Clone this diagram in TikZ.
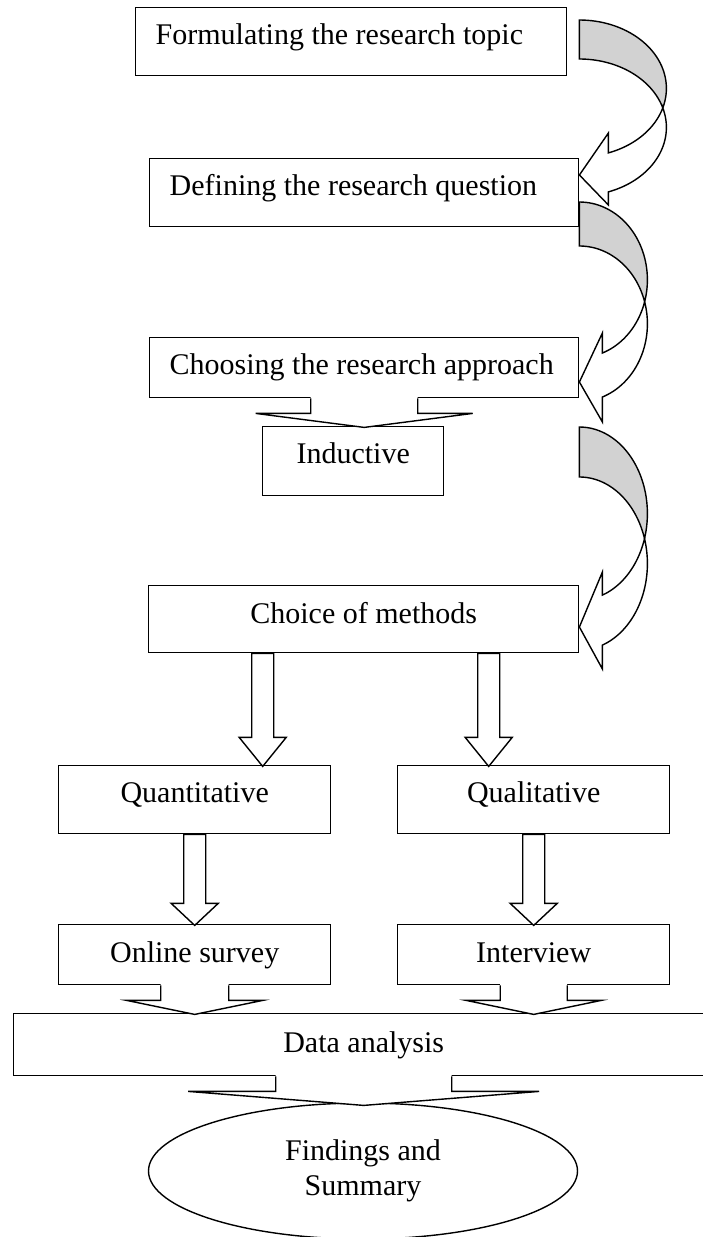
\documentclass[tikz,border=0pt]{standalone}
\usepackage{fontspec}
\setmainfont{Liberation Serif}
\usetikzlibrary{shapes.geometric}
\tikzset{
  ln/.style={line width=1.4pt, draw=black},
  bx/.style={ln, fill=white, anchor=north west, inner sep=0pt, font=\fontsize{30}{35}\selectfont},
}
\newcommand\NotchArrow[3]{%
  \begin{scope}[shift={(#1)}]
    \fill[white] (-#2,-1.5) -- (-#2,15) -- (-#3,15) -- (0,29) -- (#3,15) -- (#2,15) -- (#2,-1.5) -- cycle;
    \draw[ln] (-#2,0) -- (-#2,15) -- (-#3,15) -- (0,29) -- (#3,15) -- (#2,15) -- (#2,0);
  \end{scope}}
\newcommand\ThinArrow[4]{%
  \filldraw[ln, fill=white, shift={(#1)}] ({#2-11},0) -- ({#2-11},#3) -- ({#2-23.5},#3) -- (#2,#4) -- ({#2+23.5},#3) -- ({#2+11},#3) -- ({#2+11},0) -- cycle;}
\begin{document}
\begin{tikzpicture}[x=1pt,y=-1pt]
\useasboundingbox (0,0) rectangle (702,1237);

% boxes (left-aligned text)
\node[bx, inner xsep=20pt, text height=37pt, text depth=31pt] (b1) at (135,7) {\makebox[391pt][l]{Formulating the research topic}};
\node[bx, inner xsep=20pt, text height=37pt, text depth=31pt] (b2) at (149,158) {\makebox[389pt][l]{Defining the research question}};
\node[bx, inner xsep=20pt, text height=37pt, text depth=23pt] (b3) at (149,337) {\makebox[389pt][l]{Choosing the research approach}};
% boxes (centred text)
\node[bx, minimum width=181pt, text height=37pt, text depth=32pt] (ind) at (262,426) {Inductive};
\node[bx, minimum width=430pt, text height=38pt, text depth=29pt] (cm) at (148,585) {Choice of methods};
\node[bx, minimum width=272pt, text height=37pt, text depth=31pt] (qn) at (58,765) {Quantitative};
\node[bx, minimum width=272pt, text height=37pt, text depth=31pt] (ql) at (397,765) {Qualitative};
\node[bx, minimum width=272pt, text height=38pt, text depth=22pt] (os) at (58,924) {Online survey};
\node[bx, minimum width=272pt, text height=38pt, text depth=22pt] (iv) at (397,924) {Interview};
\node[bx, minimum width=700pt, text height=39pt, text depth=23pt] (da) at (13,1013) {Data analysis};
\node[ln, fill=white, ellipse, minimum width=429pt, minimum height=136pt, inner sep=0pt, align=center,
      font=\fontsize{30}{35}\selectfont] (find) at (363,1171) {\spaceskip=7.5pt\relax Findings and\\Summary};

% straight block arrows
\NotchArrow{b3.south}{53.5}{108.5}
\ThinArrow{cm.south}{-101}{84}{113}
\ThinArrow{cm.south}{125}{84}{113}
\ThinArrow{qn.south}{0}{69}{91}
\ThinArrow{ql.south}{0}{69}{91}
\NotchArrow{os.south}{34}{68}
\NotchArrow{iv.south}{33.5}{67.5}
\NotchArrow{da.south}{88}{175.5}

% curved arrow 1 (b1 -> b2)
\begin{scope}[shift={(b2.north east)}]
  \filldraw[ln, fill=gray!35] plot[domain=-90:16.57, samples=40] ({87*cos(\x)},{-69.6+68.4*sin(\x)})
     -- plot[domain=-16.57:-90, samples=40] ({87*cos(\x)},{-30.6+68.4*sin(\x)}) -- cycle;
  \filldraw[ln, fill=white] plot[domain=16.57:70.53, samples=30] ({87*cos(\x)},{-69.6+68.4*sin(\x)})
     -- (29,-25) -- (0,17) -- (29,47)
     -- plot[domain=70.53:-16.57, samples=40] ({87*cos(\x)},{-30.6+68.4*sin(\x)}) -- cycle;
\end{scope}
% curved arrow 2 (b2 -> b3)
\begin{scope}[shift={(b3.north east)}]
  \filldraw[ln, fill=gray!35] plot[domain=-90:16.43, samples=40] ({68*cos(\x)},{-57.2+77.8*sin(\x)})
     -- plot[domain=-16.43:-90, samples=40] ({68*cos(\x)},{-13.2+77.8*sin(\x)}) -- cycle;
  \filldraw[ln, fill=white] plot[domain=16.43:70.23, samples=30] ({68*cos(\x)},{-57.2+77.8*sin(\x)})
     -- (23,-4) -- (0,45) -- (23,85)
     -- plot[domain=70.23:-16.43, samples=40] ({68*cos(\x)},{-13.2+77.8*sin(\x)}) -- cycle;
\end{scope}
% curved arrow 3 (-> cm)
\begin{scope}[shift={(cm.north east)}]
  \filldraw[ln, fill=gray!35] plot[domain=-90:16.78, samples=40] ({68*cos(\x)},{-71.4+86.6*sin(\x)})
     -- plot[domain=-16.78:-90, samples=40] ({68*cos(\x)},{-21.4+86.6*sin(\x)}) -- cycle;
  \filldraw[ln, fill=white] plot[domain=16.78:70.23, samples=30] ({68*cos(\x)},{-71.4+86.6*sin(\x)})
     -- (23,-13) -- (0,42) -- (23,84)
     -- plot[domain=70.23:-16.78, samples=40] ({68*cos(\x)},{-21.4+86.6*sin(\x)}) -- cycle;
\end{scope}
\end{tikzpicture}
\end{document}
